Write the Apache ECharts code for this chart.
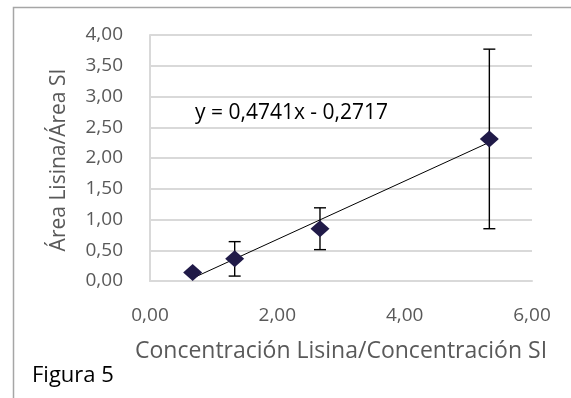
<!DOCTYPE html>
<html>
<head>
<meta charset="utf-8">
<script src="https://cdn.jsdelivr.net/npm/echarts@6/dist/echarts.min.js"></script>
<style>
html,body{margin:0;padding:0;background:#fff;}
#chart{width:571px;height:398px;}
</style>
</head>
<body>
<div id="chart"></div>
<script>
// Data
var xValues = [0.67, 1.33, 2.67, 5.33];
var yValues = [0.14, 0.36, 0.85, 2.31];
var yErrors = [0.03, 0.28, 0.34, 1.46];
var trendX = [0.67, 5.33];
var trendY = [0.046, 2.255];
var equationText = 'y = 0,4741x - 0,2717';
var xTitle = 'Concentración Lisina/Concentración SI';
var yTitle = 'Área Lisina/Área SI';
var figureLabel = 'Figura 5';

var points = xValues.map(function (x, i) { return [x, yValues[i]]; });
var errData = xValues.map(function (x, i) { return [x, yValues[i] - yErrors[i], yValues[i] + yErrors[i]]; });
var trendData = trendX.map(function (x, i) { return [x, trendY[i]]; });

var FONT = 'Open Sans';
function fmt(v) { return v.toFixed(2).replace('.', ','); }

var chart = echarts.init(document.getElementById('chart'), null, {renderer: 'canvas'});
chart.setOption({
  animation: false,
  backgroundColor: '#ffffff',
  grid: {left: 150, right: 39, top: 35, bottom: 117, containLabel: false},
  xAxis: {
    type: 'value', min: 0, max: 6, interval: 2,
    name: xTitle, nameLocation: 'middle', nameGap: 70,
    nameTextStyle: {color: '#595959', fontFamily: FONT, fontSize: 23, verticalAlign: 'middle'},
    axisLine: {show: true, lineStyle: {color: '#d9d9d9', width: 2}},
    axisTick: {show: false},
    splitLine: {show: false},
    axisLabel: {color: '#595959', fontFamily: FONT, fontSize: 19, margin: 25, formatter: fmt}
  },
  yAxis: {
    type: 'value', min: 0, max: 4, interval: 0.5,
    axisLine: {show: true, lineStyle: {color: '#d9d9d9', width: 2}},
    axisTick: {show: false},
    splitLine: {show: true, lineStyle: {color: '#d9d9d9', width: 2}},
    axisLabel: {color: '#595959', fontFamily: FONT, fontSize: 19, margin: 27, formatter: fmt}
  },
  graphic: [
    {type: 'rect', left: 11, top: 5, shape: {width: 580, height: 420},
     style: {fill: 'none', stroke: '#a6a6a6', lineWidth: 1.5}, silent: true},
    {type: 'text', x: 59, y: 160, rotation: Math.PI / 2,
     style: {text: yTitle, fill: '#595959', font: '21px "Open Sans"', align: 'center', verticalAlign: 'middle'}},
    {type: 'text', x: 195, y: 113,
     style: {text: equationText, fill: '#000000', font: '21px "Open Sans"', align: 'left', verticalAlign: 'middle'}},
    {type: 'text', x: 32, y: 376,
     style: {text: figureLabel, fill: '#000000', font: '22px "Open Sans"', align: 'left', verticalAlign: 'middle'}}
  ],
  series: [
    {
      type: 'line', data: trendData, symbol: 'none', z: 3,
      lineStyle: {color: '#000000', width: 1}
    },
    {
      type: 'custom', z: 4,
      data: errData,
      renderItem: function (params, api) {
        var x = api.value(0);
        var lo = api.coord([x, api.value(1)]);
        var hi = api.coord([x, api.value(2)]);
        var hw = 6;
        var st = {stroke: '#000000', lineWidth: 1.4};
        return {type: 'group', children: [
          {type: 'line', shape: {x1: lo[0], y1: lo[1], x2: hi[0], y2: hi[1]}, style: st},
          {type: 'line', shape: {x1: lo[0] - hw, y1: lo[1], x2: lo[0] + hw, y2: lo[1]}, style: st},
          {type: 'line', shape: {x1: hi[0] - hw, y1: hi[1], x2: hi[0] + hw, y2: hi[1]}, style: st}
        ]};
      }
    },
    {
      type: 'scatter', data: points, symbol: 'diamond', symbolSize: [19, 17], z: 5,
      itemStyle: {color: '#201a48', opacity: 1}
    }
  ]
});
</script>
</body>
</html>
